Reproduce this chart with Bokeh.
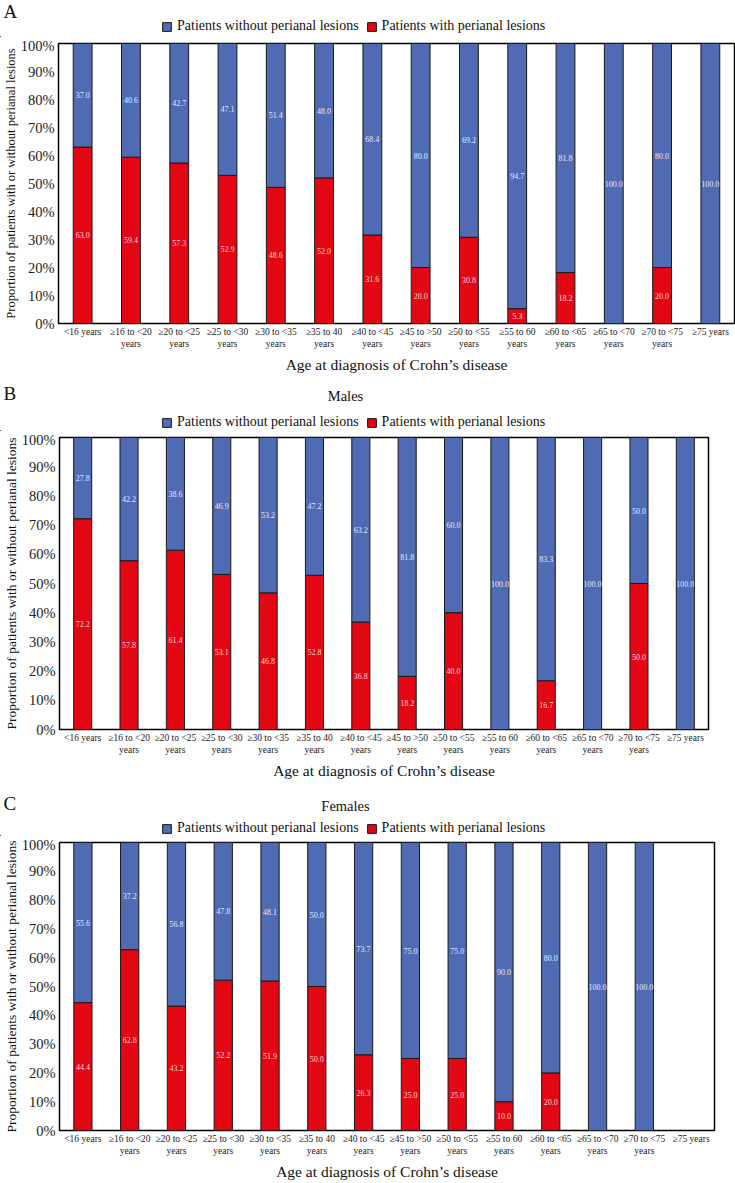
from bokeh.plotting import figure
from bokeh.models import (ColumnDataSource, FactorRange, Range1d, Legend, LegendItem,
                          Label, PrintfTickFormatter, FixedTicker)
from bokeh.layouts import column, row
from bokeh.embed import file_html
from bokeh.resources import INLINE
from bokeh.core.properties import value

categories = ["<16 years", "≥16 to <20\nyears", "≥20 to <25\nyears", "≥25 to <30\nyears",
              "≥30 to <35\nyears", "≥35 to 40\nyears", "≥40 to <45\nyears", "≥45 to >50\nyears",
              "≥50 to <55\nyears", "≥55 to 60\nyears", "≥60 to <65\nyears", "≥65 to <70\nyears",
              "≥70 to <75\nyears", "≥75 years"]

all_with = [63.0, 59.4, 57.3, 52.9, 48.6, 52.0, 31.6, 20.0, 30.8, 5.3, 18.2, 0.0, 20.0, 0.0]
all_without = [37.0, 40.6, 42.7, 47.1, 51.4, 48.0, 68.4, 80.0, 69.2, 94.7, 81.8, 100.0, 80.0, 100.0]

males_with = [72.2, 57.8, 61.4, 53.1, 46.8, 52.8, 36.8, 18.2, 40.0, 0.0, 16.7, 0.0, 50.0, 0.0]
males_without = [27.8, 42.2, 38.6, 46.9, 53.2, 47.2, 63.2, 81.8, 60.0, 100.0, 83.3, 100.0, 50.0, 100.0]

# no patients in the ≥75 years group for females
females_with = [44.4, 62.8, 43.2, 52.2, 51.9, 50.0, 26.3, 25.0, 25.0, 10.0, 20.0, 0.0, 0.0]
females_without = [55.6, 37.2, 56.8, 47.8, 48.1, 50.0, 73.7, 75.0, 75.0, 90.0, 80.0, 100.0, 100.0]

legend_labels = ["Patients without perianal lesions", "Patients with perianal lesions"]
y_ticks = list(range(0, 101, 10))

W = 735
FONT = "Liberation Serif"
BLUE = "#4E6BB3"
RED = "#E30613"
EDGE = "#1a1a1a"


def header(letter, subtitle, height, letter_y, sub_y, legend_y):
    h = figure(width=W, height=height, x_range=Range1d(0, W), y_range=Range1d(0, height),
               output_backend="svg", toolbar_location=None,
               x_axis_location=None, y_axis_location=None,
               min_border=0, outline_line_color=None)
    h.xgrid.grid_line_color = None
    h.ygrid.grid_line_color = None
    # legend-only glyphs, kept outside the visible range
    hidden = ColumnDataSource(dict(x=[-1000], top=[1]))
    r_wo = h.vbar(x="x", top="top", width=1, source=hidden, fill_color=BLUE, line_color=EDGE)
    r_w = h.vbar(x="x", top="top", width=1, source=hidden, fill_color=RED, line_color=EDGE)
    legend = Legend(items=[LegendItem(label=legend_labels[0], renderers=[r_wo]),
                           LegendItem(label=legend_labels[1], renderers=[r_w])],
                    orientation="horizontal", location=(161, legend_y),
                    label_text_font=FONT, label_text_font_size="14px",
                    label_text_color="#111111",
                    glyph_width=11, glyph_height=11, border_line_color=None,
                    background_fill_alpha=0, padding=2, spacing=7, margin=0,
                    label_standoff=5, label_height=16)
    h.add_layout(legend, "center")
    h.add_layout(Label(x=3, y=height - letter_y, text=letter, text_font=FONT,
                       text_font_size="19px", text_baseline="middle", text_color="#111111"))
    if subtitle:
        h.add_layout(Label(x=345, y=height - sub_y, text=subtitle, text_font=FONT,
                           text_font_size="14.5px", text_baseline="middle",
                           text_align="center", text_color="#111111"))
    return h


def panel(with_v, without_v, height, top, bottom, right, ytitle_size):
    cats = categories[:len(with_v)]
    p = figure(width=W, height=height, x_range=FactorRange(*categories),
               y_range=Range1d(0, 100), output_backend="svg", toolbar_location=None,
               min_border_top=top, min_border_bottom=bottom, min_border_right=right,
               min_border_left=0)
    src = ColumnDataSource(dict(cat=cats, w=with_v, wo=without_v))
    p.vbar_stack(["w", "wo"], x="cat", width=0.39, color=[RED, BLUE],
                 line_color=EDGE, line_width=1, source=src)

    # segment labels at the middle of each segment
    lx, ly, lt, lc = [], [], [], []
    for c, w, wo in zip(cats, with_v, without_v):
        if w > 0:
            lx.append(c); ly.append(w / 2); lt.append(f"{w:.1f}"); lc.append("#ffd6d6")
        if wo > 0:
            lx.append(c); ly.append(w + wo / 2); lt.append(f"{wo:.1f}"); lc.append("#e4eaff")
    lsrc = ColumnDataSource(dict(x=lx, y=ly, t=lt, c=lc))
    p.text(x="x", y="y", text="t", text_color="c", source=lsrc,
           text_font=value(FONT), text_font_size="8px",
           text_align="center", text_baseline="middle")

    p.outline_line_color = "black"
    p.outline_line_width = 1.5
    p.outline_line_alpha = 1
    p.xgrid.grid_line_color = None
    p.ygrid.grid_line_color = None

    p.yaxis.ticker = FixedTicker(ticks=y_ticks)
    p.yaxis.formatter = PrintfTickFormatter(format="%d%%")
    p.yaxis.axis_line_color = None
    p.yaxis.major_tick_line_color = None
    p.yaxis.minor_tick_line_color = None
    p.yaxis.major_tick_out = 0
    p.yaxis.major_label_text_font = FONT
    p.yaxis.major_label_text_font_size = "14.5px"
    p.yaxis.major_label_text_color = "#222222"
    p.yaxis.major_label_standoff = 4
    p.yaxis.axis_label = "Proportion of patients with or without perianal lesions"
    p.yaxis.axis_label_text_font = FONT
    p.yaxis.axis_label_text_font_size = ytitle_size
    p.yaxis.axis_label_text_font_style = "normal"
    p.yaxis.axis_label_text_color = "#111111"
    p.yaxis.axis_label_standoff = 0

    p.xaxis.axis_line_color = None
    p.xaxis.major_tick_line_color = None
    p.xaxis.major_tick_out = 0
    p.xaxis.major_label_text_font = FONT
    p.xaxis.major_label_text_font_size = "9.5px"
    p.xaxis.major_label_text_color = "#222222"
    p.xaxis.major_label_standoff = 3
    p.xaxis.axis_label = "Age at diagnosis of Crohn’s disease"
    p.xaxis.axis_label_text_font = FONT
    p.xaxis.axis_label_text_font_size = "15.5px"
    p.xaxis.axis_label_text_font_style = "normal"
    p.xaxis.axis_label_text_color = "#111111"
    p.xaxis.axis_label_standoff = 4
    return p


ha = header("A", None, 37, 11, 0, 3)
pa = panel(all_with, all_without, 343, 6, 57, 1, "12.5px")
hb = header("B", "Males", 51, 13, 15, 1)
pb = panel(males_with, males_without, 359, 6, 61, 27, "13.5px")
hc = header("C", "Females", 46, 13, 15, 0)
pc = panel(females_with, females_without, 346, 6, 48, 21, "13.5px")

layout = column(row(ha), row(pa), row(hb), row(pb), row(hc), row(pc), spacing=0)
open("out.html", "w").write(file_html(layout, INLINE))
